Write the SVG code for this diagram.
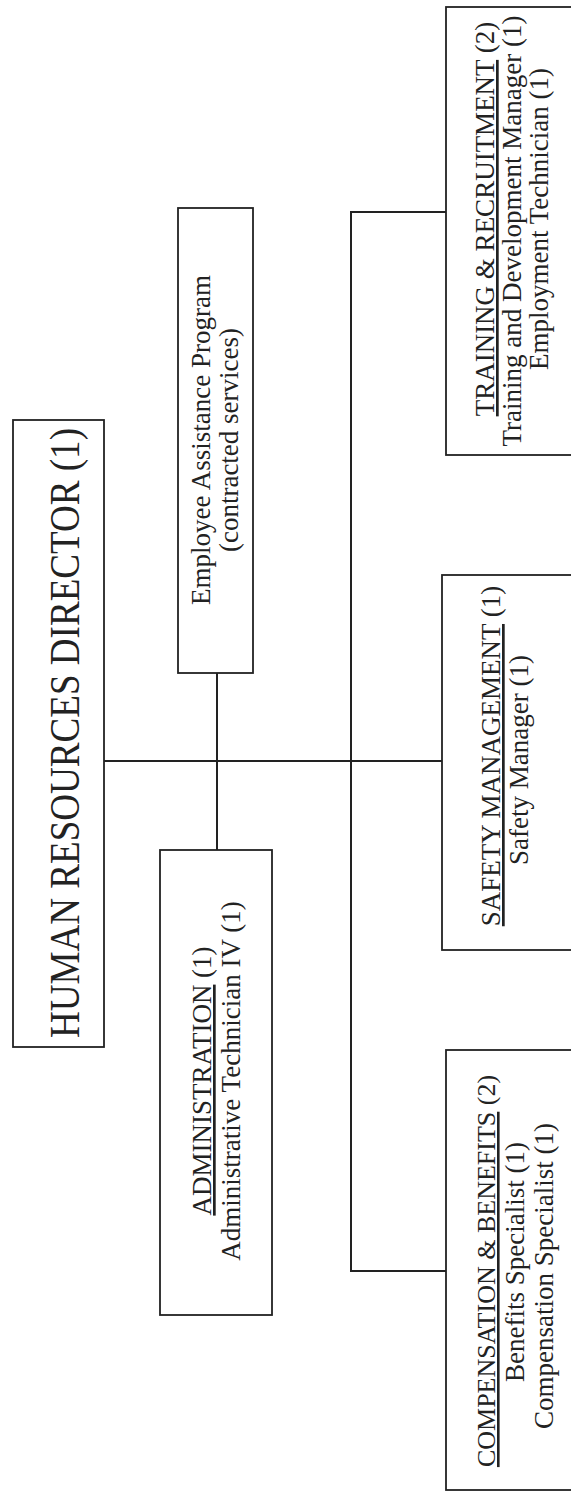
<svg xmlns="http://www.w3.org/2000/svg" width="571" height="1493" viewBox="0 0 571 1493">
<style>
.box{fill:none;stroke:#222;stroke-width:1.8}
.ln{fill:none;stroke:#222;stroke-width:2}
.t{font-family:"Liberation Serif","Times New Roman",serif;fill:#222;text-anchor:middle}
.s{font-size:27px}
.u{text-decoration:underline}
</style>
<rect x="0" y="0" width="571" height="1493" fill="#fff"/>
<g id="connectors">
<line class="ln" x1="104" y1="761" x2="442" y2="761"/>
<line class="ln" x1="217" y1="673" x2="217" y2="850"/>
<polyline class="ln" points="446,212 351,212 351,1271 446,1271"/>
</g>
<g id="director">
<rect class="box" x="13" y="420" width="91" height="627"/>
<text class="t" font-size="42" textLength="610" lengthAdjust="spacingAndGlyphs" transform="translate(79,733) rotate(-90)">HUMAN RESOURCES DIRECTOR (1)</text>
</g>
<g id="eap">
<rect class="box" x="178" y="208" width="75" height="465"/>
<text class="t s" transform="translate(210,440) rotate(-90)">Employee Assistance Program</text>
<text class="t s" transform="translate(238,440) rotate(-90)">(contracted services)</text>
</g>
<g id="admin">
<rect class="box" x="160" y="850" width="112" height="465"/>
<text class="t s" transform="translate(211,1081) rotate(-90)"><tspan class="u">ADMINISTRATION</tspan> (1)</text>
<text class="t s" transform="translate(240,1081) rotate(-90)">Administrative  Technician IV (1)</text>
</g>
<g id="training">
<rect class="box" x="446" y="7" width="130" height="448"/>
<text class="t s" transform="translate(494,219) rotate(-90)"><tspan class="u">TRAINING &amp; RECRUITMENT</tspan> (2)</text>
<text class="t s" transform="translate(521,231) rotate(-90)">Training and Development Manager (1)</text>
<text class="t s" transform="translate(548,219) rotate(-90)">Employment  Technician  (1)</text>
</g>
<g id="safety">
<rect class="box" x="442" y="575" width="134" height="375"/>
<text class="t s" transform="translate(500,756) rotate(-90)"><tspan class="u">SAFETY MANAGEMENT</tspan> (1)</text>
<text class="t s" transform="translate(528,760) rotate(-90)">Safety Manager (1)</text>
</g>
<g id="compensation">
<rect class="box" x="446" y="1050" width="130" height="440"/>
<text class="t" font-size="26" transform="translate(495,1271) rotate(-90)"><tspan class="u">COMPENSATION &amp; BENEFITS</tspan> (2)</text>
<text class="t s" transform="translate(524,1262) rotate(-90)">Benefits Specialist (1)</text>
<text class="t s" transform="translate(553,1276) rotate(-90)">Compensation Specialist (1)</text>
</g>
</svg>
